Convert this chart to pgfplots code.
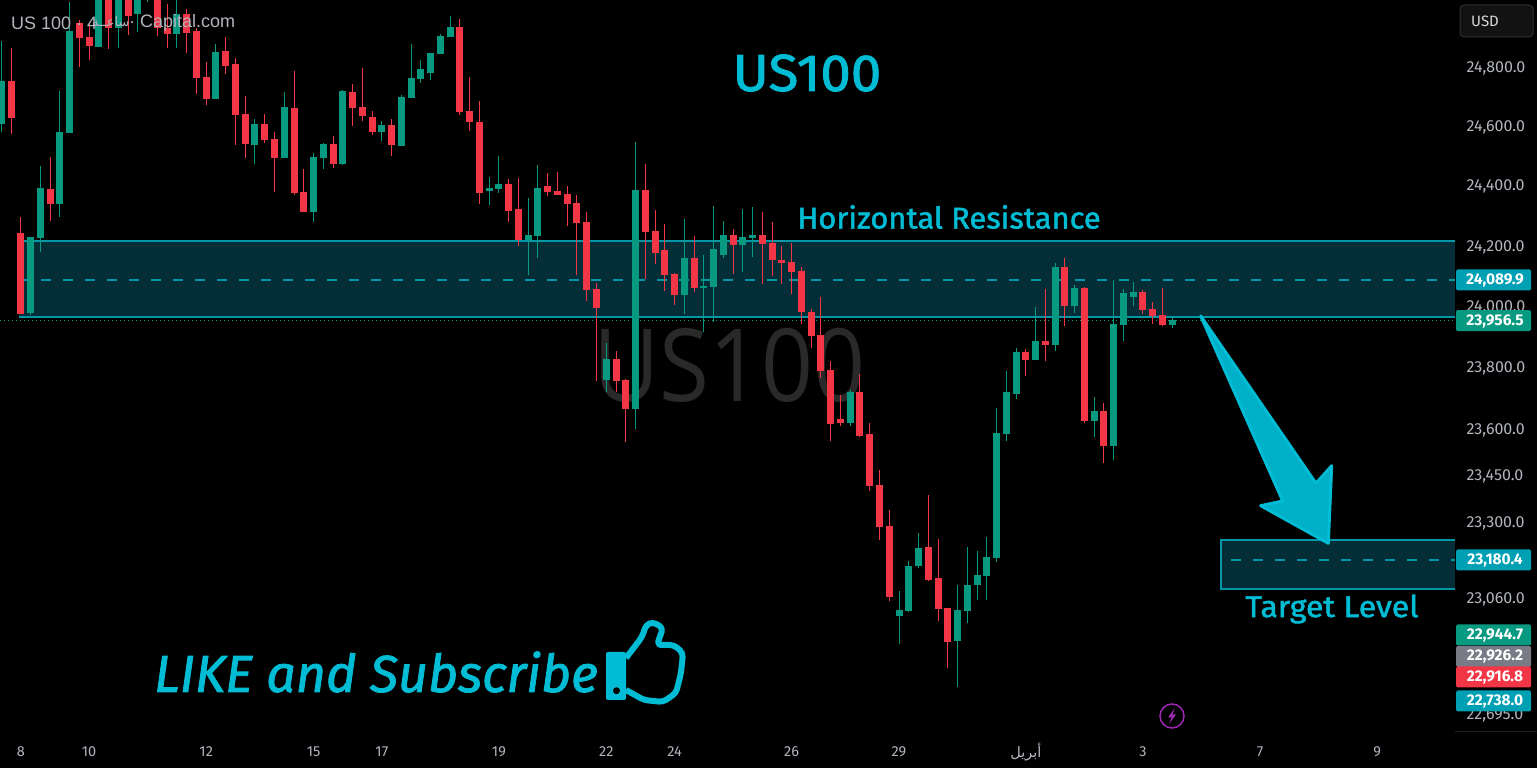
\documentclass[border=0pt]{standalone}
\usepackage{pgfplots}
\usepackage{pgfplotstable}
\usepackage{fontspec}
\pgfplotsset{compat=1.18}
\setmainfont{Fira Sans}
\newfontfamily\annf[FakeBold=1.6]{Fira Sans}
\newfontfamily\hdr{Liberation Sans}
\newfontfamily\tickf{Fira Sans}
\newfontfamily\openf{Open Sans}
\newfontfamily\arabicfont[Script=Arabic]{DejaVu Sans}
\TeXXeTstate=1
\definecolor{cup}{HTML}{089981}
\definecolor{cdn}{HTML}{F23645}
\definecolor{zline}{HTML}{0097A7}
\definecolor{zfill}{HTML}{032E38}
\definecolor{ann}{HTML}{00BCD4}
\definecolor{arrf}{HTML}{00B0C8}
\definecolor{tickc}{HTML}{B2B5BE}
\definecolor{badge}{HTML}{00A0B4}
\definecolor{HTMLpurple}{HTML}{9C27B0}
\definecolor{HTMLgrey}{HTML}{787B86}
% index open high low close
\pgfplotstableread{
i o h l c
0 24606 24887 24579 24751
3 23977 24228 23971 24228
4 24225 24464 24178 24391
6 24338 24717 24295 24579
7 24576 25020 24576 24921
10 24866 25044 24866 25037
12 24931 25044 24863 25037
14 24979 25044 24918 25037
15 25034 25054 25020 25048
18 24911 25034 24863 24979
22 24690 24877 24690 24849
26 24535 24623 24471 24606
29 24491 24713 24491 24663
32 24311 24508 24278 24495
33 24491 24541 24454 24538
35 24471 24720 24468 24717
39 24579 24616 24548 24603
41 24532 24703 24532 24697
42 24693 24877 24693 24761
43 24758 24822 24744 24792
44 24778 24846 24754 24846
45 24842 24911 24842 24904
46 24901 24972 24901 24935
50 24381 24428 24334 24391
51 24388 24498 24374 24404
54 24218 24357 24103 24235
55 24231 24468 24159 24391
62 23758 23879 23719 23827
65 23664 24545 23599 24384
70 24036 24288 23974 24159
72 24060 24169 23915 24066
73 24063 24331 23948 24188
74 24169 24281 24159 24235
76 24201 24321 24112 24228
77 24225 24328 24162 24235
87 23619 23726 23609 23719
92 23002 23080 22914 23021
93 23017 23178 23014 23162
94 23162 23267 23156 23219
98 22923 23102 22780 23021
99 23017 23222 22980 23102
100 23099 23207 23052 23131
101 23128 23255 23055 23188
102 23185 23667 23175 23587
103 23584 23788 23561 23719
104 23713 23863 23696 23850
106 23823 23997 23823 23886
108 23873 24142 23853 24129
110 24000 24069 23977 24060
112 23625 23703 23573 23658
114 23544 24086 23500 23941
115 23938 24056 23885 24043
116 24030 24079 24000 24046
120 23938 23961 23928 23954
}\upbars
\pgfplotstableread{
i o h l c
1 24751 24863 24572 24626
2 24241 24295 23974 23974
5 24388 24495 24281 24338
8 24948 24959 24798 24897
9 24901 24948 24822 24870
11 25037 25044 24860 24931
13 25037 25044 24907 24972
16 25037 25044 24904 24931
17 24931 25013 24863 24911
19 24979 24996 24846 24914
20 24921 24931 24707 24761
21 24764 24815 24670 24690
23 24853 24901 24775 24802
24 24808 24829 24535 24636
25 24640 24700 24491 24539
27 24606 24640 24541 24552
28 24556 24579 24377 24491
30 24660 24785 24367 24374
31 24377 24454 24311 24311
34 24538 24565 24458 24471
36 24713 24741 24599 24660
37 24663 24795 24616 24633
38 24630 24650 24569 24579
40 24603 24623 24498 24535
47 24935 24962 24636 24647
48 24650 24764 24583 24613
49 24613 24683 24338 24374
52 24404 24421 24278 24314
53 24321 24424 24198 24218
56 24398 24441 24364 24377
57 24381 24444 24367 24367
58 24371 24398 24265 24338
59 24341 24367 24103 24275
60 24278 24311 24017 24053
61 24056 24076 23755 23994
63 23827 23853 23719 23755
64 23758 23762 23557 23664
66 24384 24471 24089 24245
67 24248 24318 24139 24175
68 24185 24271 24050 24103
69 24106 24109 24004 24036
71 24159 24231 24046 24060
75 24235 24255 24106 24201
78 24235 24311 24073 24205
79 24208 24278 24099 24152
80 24152 24198 24073 24142
81 24145 24208 24040 24112
82 24116 24129 23941 23981
83 23981 23991 23863 23902
84 23905 24030 23765 23788
85 23791 23820 23561 23616
86 23632 23710 23609 23619
88 23719 23778 23574 23577
89 23584 23619 23401 23417
90 23420 23468 23245 23283
91 23289 23340 23049 23061
95 23222 23388 23112 23118
96 23121 23248 22986 23024
97 23027 23027 22839 22920
105 23850 23859 23771 23823
107 23886 24056 23820 23873
109 24129 24159 23935 24000
111 24060 24063 23619 23625
113 23658 23683 23490 23544
117 24046 24053 23974 23987
118 23991 24013 23941 23968
119 23971 24060 23935 23938
}\downbars
% the price scale is logarithmic: heights are 7300*ln(price/22640) points
\pgfplotsset{
  wick/.style={draw=none,no marks,forget plot,
    error bars/.cd,y dir=plus,y explicit,error mark=none,
    error bar style={draw,line width=1pt,color=#1}},
  body/.style={draw=none,no marks,forget plot,
    error bars/.cd,y dir=plus,y explicit,error mark=none,
    error bar style={draw,line width=7pt,color=#1}}
}
\begin{document}
\begin{tikzpicture}[x=1pt,y=1pt]
\path[use as bounding box,fill=black] (0,0) rectangle (1537,768);
% watermark
\node[inner sep=0pt,text=white!16!black,font=\openf\fontsize{101}{101}\selectfont,xscale=0.9] at (729.5,768-365) {US100};
\begin{axis}[
  at={(0pt,36pt)},anchor=south west,scale only axis,
  width=1455pt,height=732pt,
  declare function={Y(\p)=7300*ln(\p/22640);},
  xmin=-0.133,xmax=148.98,ymin=0,ymax=731.6,
  axis line style={draw=none},
  major tick length=0pt,minor tick length=0pt,
  ytick={665.1,606,546.3,486.3,425.7,364.6,303.1,256.6,209.6,134.1,17.6},
  yticklabels={{24,800.0},{24,600.0},{24,400.0},{24,200.0},{24,000.0},{23,800.0},{23,600.0},{23,450.0},{23,300.0},{23,060.0},{22,695.0}},
  yticklabel pos=right,
  yticklabel style={anchor=west,xshift=8pt,yshift=-1.5pt,text=tickc,font=\tickf\fontsize{16}{16}\selectfont},
  xtick={2,9,21,32,39,51,62,69,81,92,105,117,129,141},
  xticklabels={8,10,12,15,17,19,22,24,26,29,{\arabicfont\beginR أبريل\endR},3,7,9},
  xticklabel style={anchor=center,yshift=-20pt,text=tickc,font=\tickf\fontsize{14.5}{14.5}\selectfont},
]
% resistance zone
\addplot[draw=none,fill=zfill,forget plot] coordinates {(1.81,{Y(24214)})(148.98,{Y(24214)})(148.98,{Y(23964)})(1.81,{Y(23964)})} --cycle;
\addplot[zline,line width=2pt,forget plot] coordinates {(1.81,{Y(24214)})(148.98,{Y(24214)})};
\addplot[zline,line width=2pt,forget plot] coordinates {(1.81,{Y(23964)})(148.98,{Y(23964)})};
\addplot[zline,line width=1.6pt,dash pattern=on 10pt off 12pt,forget plot] coordinates {(1.81,{Y(24086)})(148.98,{Y(24086)})};
% last price line
\addplot[cup,line width=1pt,dash pattern=on 1pt off 3pt,forget plot] coordinates {(-0.133,{Y(23952)})(148.98,{Y(23952)})};
% target zone
\addplot[draw=none,fill=zfill,forget plot] coordinates {(125,{Y(23245)})(148.98,{Y(23245)})(148.98,{Y(23087)})(125,{Y(23087)})} --cycle;
\addplot[zline,line width=2pt,forget plot] coordinates {(148.98,{Y(23245)})(125,{Y(23245)})(125,{Y(23087)})(148.98,{Y(23087)})};
\addplot[zline,line width=1.6pt,dash pattern=on 10pt off 12pt,forget plot] coordinates {(126,{Y(23180.4)})(148.98,{Y(23180.4)})};
% candles
\addplot[wick=cup] table[x=i,y expr={7300*ln(\thisrow{l}/22640)},y error plus expr={7300*ln(\thisrow{h}/\thisrow{l})}] {\upbars};
\addplot[body=cup] table[x=i,y expr={7300*ln(\thisrow{o}/22640)},y error plus expr={7300*ln(\thisrow{c}/\thisrow{o})}] {\upbars};
\addplot[wick=cdn] table[x=i,y expr={7300*ln(\thisrow{l}/22640)},y error plus expr={7300*ln(\thisrow{h}/\thisrow{l})}] {\downbars};
\addplot[body=cdn] table[x=i,y expr={7300*ln(\thisrow{c}/22640)},y error plus expr={7300*ln(\thisrow{o}/\thisrow{c})}] {\downbars};
\end{axis}
\begin{scope}[yshift=768pt,y=-1pt]
% faint scale line
\draw[line width=1pt,color=white!12!black] (1455,732) -- (1537,732);
% header
\node[anchor=west,inner sep=0pt,text=tickc,font=\hdr\fontsize{18}{18}\selectfont] at (11,23) {US 100 · 4};
\node[anchor=west,inner sep=0pt,text=tickc,font=\arabicfont\fontsize{13}{13}\selectfont] at (92,22) {\beginR ساعــة\endR};
\node[anchor=west,inner sep=0pt,text=tickc,font=\hdr\fontsize{18}{18}\selectfont] at (129,23) {· Capital.com};
% arrow
\draw[fill=arrf,draw=ann,line width=3pt,line join=round] (1200.7,316) -- (1316,483.3) -- (1331.7,465.7) -- (1328.3,543.3) -- (1260.7,505.7) -- (1282.7,501) -- cycle;
% annotations
\node[text=ann,inner sep=0pt,xscale=1.05,font=\annf\fontsize{52}{52}\selectfont] at (807,73) {US100};
\node[text=ann,inner sep=0pt,xscale=1.03,font=\annf\fontsize{30}{30}\selectfont] at (949,217) {Horizontal Resistance};
\node[text=ann,inner sep=0pt,xscale=1.07,font=\annf\fontsize{30}{30}\selectfont] at (1332,609) {Target Level};
\node[text=ann,inner sep=0pt,anchor=west,font=\annf\itshape\fontsize{52}{52}\selectfont] at (154,672) {LIKE and Subscribe};
% thumb
\fill[ann,rounded corners=2pt] (606,652) rectangle (626,700);
\fill[black] (616.5,690.7) circle (3.5);
\draw[ann,line width=6pt,line join=round,rounded corners=4pt] (626,658) -- (642,637) -- (646,625) -- (653,622) -- (663,628) -- (657,645) -- (674,645) -- (683,653) -- (681,673) -- (676,693) -- (663,702) -- (644,700) -- (626,690);
% bolt icon
\draw[color=HTMLpurple,line width=1.5pt] (1172,716) circle (12);
\fill[HTMLpurple] (1175,708) -- (1168,717.5) -- (1171.5,717.5) -- (1169,724) -- (1176,714.5) -- (1172.5,714.5) -- cycle;
% price badges
\foreach \yy/\col/\txt in {280/badge/{24,089.9},320.6/cup/{23,956.5},560/badge/{23,180.4},635/cup/{22,944.7},656.5/HTMLgrey/{22,926.2},677/cdn/{22,916.8},701/badge/{22,738.0}}{
  \fill[\col,rounded corners=1.5pt] (1456,\yy-10.5) rectangle (1531,\yy+10.5);
  \node[text=white,inner sep=0pt,font=\tickf\bfseries\fontsize{15.5}{15.5}\selectfont] at (1495,\yy+0.5) {\txt};
}
% currency button
\draw[fill=white!7!black,draw=white!18!black,line width=1pt,rounded corners=4pt] (1460,5) rectangle (1533,37);
\node[anchor=west,inner sep=0pt,text=white!85!black,font=\tickf\fontsize{15}{15}\selectfont] at (1471,21) {USD};
\end{scope}
\end{tikzpicture}
\end{document}
